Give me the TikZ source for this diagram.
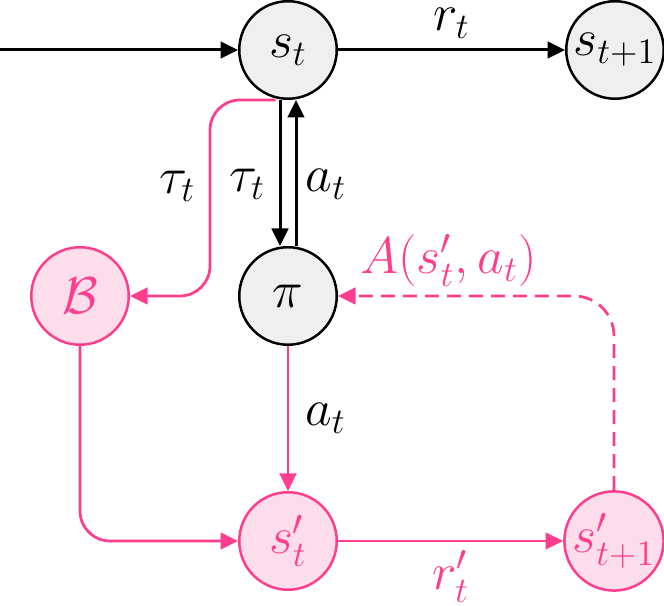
\documentclass[tikz,border=0pt]{standalone}
\usepackage{amsmath}
\usepackage{xcolor}
\definecolor{rlPink}{HTML}{FF3D8E}
\definecolor{rlPinkFill}{HTML}{FDDDEA}
\definecolor{rlGrey}{HTML}{EFEFEF}
\usepackage{tikz}
\usetikzlibrary{arrows.meta}

\begin{document}
\begin{tikzpicture}[x=40pt, y=40pt, line width=1.2pt,
    >={Triangle[length=7pt,width=6.6pt]},
    every node/.style={font=\fontsize{22}{26}\selectfont},
    realnode/.style={circle, draw=black, fill=rlGrey, line width=1pt, minimum size=39pt, inner sep=0pt},
    simnode/.style={circle, draw=rlPink, fill=rlPinkFill, text=rlPink, line width=1pt, minimum size=39pt, inner sep=0pt},
    simedge/.style={->, rlPink, line width=1.1pt}]
  \useasboundingbox (0,0) rectangle (6.64,6.06);
  % ---- real environment ----
  \node[realnode] (st)  at (2.88,5.56) {$s_t$};
  \node[realnode] (st1) at (6.15,5.56) {$s_{t+1}$};
  \node[realnode] (pi)  at (2.88,3.10) {$\pi$};
  \coordinate (in) at (0,5.56);
  \draw[->] (in) -- (st);
  \draw[->] (st) -- node[above=4pt, inner sep=0pt] {$r_t$} (st1);
  \draw[->] ([xshift=-3.2pt]st.south) -- node[pos=0.58, left=2pt] {$\tau_t$} ([xshift=-3.2pt]pi.north);
  \draw[->] ([xshift=3.2pt]pi.north) -- node[pos=0.42, right=0pt] {$a_t$} ([xshift=3.2pt]st.south);
  % ---- simulated rollout ----
  \node[simnode] (B)   at (0.80,3.10) {$\mathcal{B}$};
  \node[simnode] (sp)  at (2.88,0.65) {$s'_t$};
  \node[simnode] (sp1) at (6.14,0.65) {$s'_{t+1}$};
  \coordinate (bend) at (2.10,3.10);
  \draw[simedge, rounded corners=12pt] ([xshift=-5pt]st.south) -| node[pos=0.72, left=2pt, text=black] {$\tau_t$} (bend) -- (B);
  \draw[simedge] (pi) -- node[right=3pt, text=black] {$a_t$} (sp);
  \draw[simedge, rounded corners=12pt] (B) |- (sp);
  \draw[simedge] (sp) -- node[below=0pt] {$r'_t$} (sp1);
  \draw[simedge, dash pattern=on 5.6pt off 3.2pt, rounded corners=16pt] (sp1) |- node[pos=0.8, above=0pt] {$A(s'_t, a_t)$} (pi);
\end{tikzpicture}
\end{document}
